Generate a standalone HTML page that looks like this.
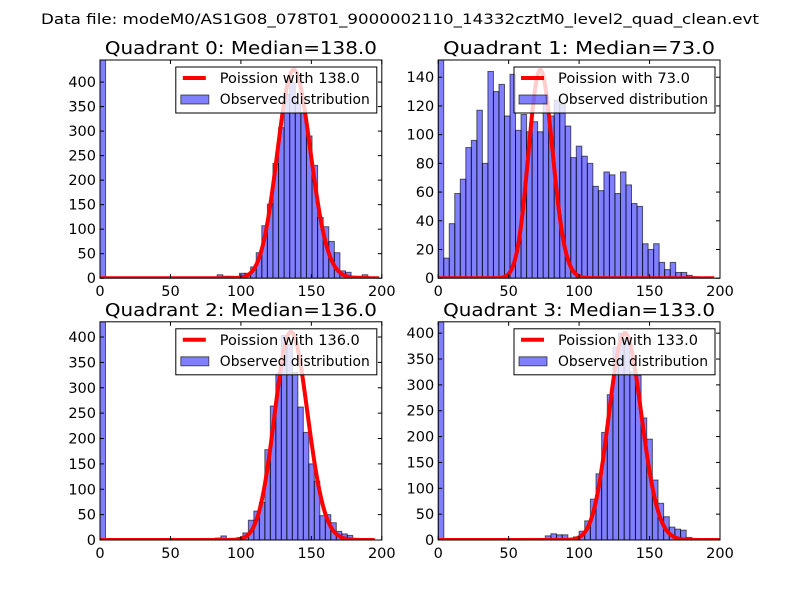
<!DOCTYPE html>
<html><head><meta charset="utf-8"><style>
html,body{margin:0;padding:0;background:#fff;}
svg{display:block;font-family:"DejaVu Sans","Liberation Sans",sans-serif;}
</style></head><body>
<svg id="fig" width="800" height="600" viewBox="0 0 800 600">
<rect width="800" height="600" fill="#fff"/>
<text x="400" y="24" text-anchor="middle" font-size="14" textLength="718" lengthAdjust="spacingAndGlyphs">Data file: modeM0/AS1G08_078T01_9000002110_14332cztM0_level2_quad_clean.evt</text>
</svg>
<script>
const titles = ["Quadrant 0: Median=138.0","Quadrant 1: Median=73.0","Quadrant 2: Median=136.0","Quadrant 3: Median=133.0"];
const lambdas = [138, 73, 136, 133];
const curvePeaks = [425, 145, 410, 400];
const binWidths = [3.96, 3.92, 3.9, 4.0];
const yMaxes = [445, 152, 430, 422];
const yTickSets = [[0,50,100,150,200,250,300,350,400],[0,20,40,60,80,100,120,140],[0,50,100,150,200,250,300,350,400],[0,50,100,150,200,250,300,350,400]];
const xTicks = [0,50,100,150,200];
const counts0 = [445,0,0,0,0,0,0,0,0,0,0,0,0,0,0,0,0,0,0,0,0,7,4,4,1,10,10,23,52,107,151,234,307,375,399,355,338,290,230,124,105,75,52,15,12,4,4,7,0,0];
const counts1 = [152,14,38,59,69,91,96,117,80,144,130,135,113,142,103,114,102,109,102,122,113,124,121,106,84,92,85,80,64,61,74,72,59,74,65,52,50,24,20,24,11,6,11,4,4,2,1,0,0,0];
const counts2 = [430,0,0,0,0,0,0,0,0,0,0,0,0,0,0,0,0,0,0,3,0,4,8,0,0,5,14,39,57,74,178,264,328,403,385,330,262,212,150,116,48,50,34,17,12,9,2,0,0,0];
const counts3 = [422,0,0,0,0,0,0,0,0,0,0,0,0,0,0,0,3,3,0,8,12,10,10,3,6,17,37,79,128,208,281,373,400,386,325,318,236,195,116,71,45,25,21,19,5,3,0,0,0,0];
const allCounts = [counts0, counts1, counts2, counts3];

const NS = "http://www.w3.org/2000/svg";
const svg = document.getElementById('fig');
function mk(tag, attrs, parent){const e=document.createElementNS(NS,tag);for(const k in attrs)e.setAttribute(k,attrs[k]);(parent||svg).appendChild(e);return e;}
const lnf=[0];for(let i=1;i<=400;i++)lnf.push(lnf[i-1]+Math.log(i));
function pmf(k,l){return Math.exp(k*Math.log(l)-l-lnf[k]);}

const axW=281.8, axH=218.2;
const lefts=[100,438.2,100,438.2], tops=[60,60,321.8,321.8];
for(let q=0;q<4;q++){
  const L=lefts[q],T=tops[q],B=T+axH,R=L+axW;
  const xs=v=>L+v/200*axW, ys=v=>B-v/yMaxes[q]*axH;
  const g=mk('g',{});
  
  
  const cp=mk('clipPath',{id:'c'+q},g);mk('rect',{x:L,y:T,width:axW,height:axH},cp);
  const bars=mk('g',{'clip-path':'url(#c'+q+')'},g);
  const cnt=allCounts[q],bw=binWidths[q];
  cnt.forEach((c,i)=>{ if(c<=0)return;
    const r=mk('rect',{x:xs(i*bw),y:ys(c),width:xs(bw)-xs(0),height:B-ys(c),fill:'rgba(0,0,255,0.5)',stroke:'rgba(0,0,0,0.6)','stroke-width':1},bars);
    
    
  });
  const mode=Math.floor(lambdas[q]);const pk=pmf(mode,lambdas[q]);
  const maxX=Math.round(bw*50);
  let d='';for(let k=0;k<=maxX;k++){d+=(k?'L':'M')+xs(k).toFixed(2)+','+ys(curvePeaks[q]*pmf(k,lambdas[q])/pk).toFixed(2);}
  const cv=mk('path',{d:d,fill:'none',stroke:'#ff0000','stroke-width':4,'stroke-linejoin':'round'},bars);
  
  
  const fr=mk('rect',{x:L,y:T,width:axW,height:axH,fill:'none',stroke:'#000','stroke-width':1},g);
  
  
  xTicks.forEach(v=>{const x=xs(v);
    mk('line',{x1:x,x2:x,y1:B,y2:B-4,stroke:'#000'},g);mk('line',{x1:x,x2:x,y1:T,y2:T+4,stroke:'#000'},g);
    const t=mk('text',{x:x,y:B+18,'text-anchor':'middle','font-size':14.5},g);t.textContent=v;
    
    
  });
  yTickSets[q].forEach(v=>{const y=ys(v);
    mk('line',{x1:L,x2:L+4,y1:y,y2:y,stroke:'#000'},g);mk('line',{x1:R,x2:R-4,y1:y,y2:y,stroke:'#000'},g);
    const t=mk('text',{x:L-4,y:y+5,'text-anchor':'end','font-size':14.5},g);t.textContent=v;
    
    
  });
  const tt=mk('text',{x:L+axW/2,y:T-6,'text-anchor':'middle','font-size':18,textLength:272,lengthAdjust:'spacingAndGlyphs'},g);
  tt.textContent=titles[q];
  
  
  const lg=mk('g',{},g);
  
  
  const lx=R-206,ly=T+7;
  mk('rect',{x:lx,y:ly,width:201,height:46,fill:'rgba(255,255,255,0.8)',stroke:'#000','stroke-width':1},lg);
  mk('line',{x1:lx+7,x2:lx+30,y1:ly+11,y2:ly+11,stroke:'#ff0000','stroke-width':4},lg);
  const t1=mk('text',{x:lx+44,y:ly+16,'font-size':14,textLength:(q==1?132:140),lengthAdjust:'spacingAndGlyphs'},lg);t1.textContent='Poission with '+lambdas[q].toFixed(1);
  
  
  mk('rect',{x:lx+5,y:ly+28,width:28,height:9,fill:'rgba(0,0,255,0.5)',stroke:'rgba(0,0,0,0.6)'},lg);
  const t2=mk('text',{x:lx+44,y:ly+37,'font-size':14,textLength:150,lengthAdjust:'spacingAndGlyphs'},lg);t2.textContent='Observed distribution';
  
  
}
</script>
</body></html>
